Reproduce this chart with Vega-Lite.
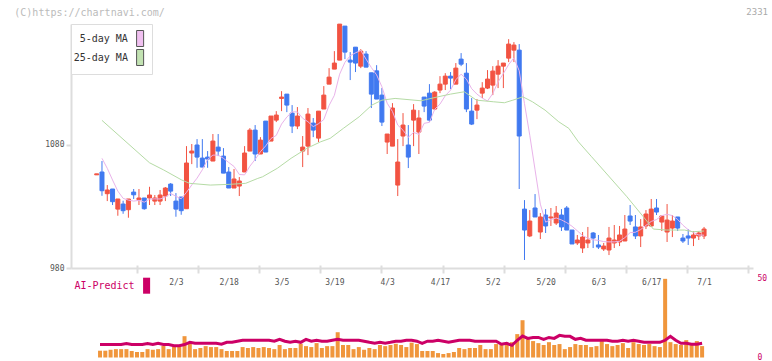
{
"$schema":"https://vega.github.io/schema/vega-lite/v6.json",
"padding":{"left":14,"top":7,"right":4,"bottom":-0.5},
"autosize":{"type":"pad"},
"background":"white",
"config":{"view":{"stroke":null},"font":"DejaVu Sans Mono"},
"bounds":"flush",
"spacing":10.5,
"title":{"text":"(C)https://chartnavi.com/","anchor":"start","frame":"group","offset":0,"dx":-56.7,"dy":10,"fontSize":10,"fontWeight":"normal","color":"#bbbbbb","font":"DejaVu Sans Mono"},
"resolve":{"scale":{"x":"independent","y":"independent","fill":"independent","color":"independent"}},
"datasets":{
"c":[
{"i":0,"d":"1/10","o":1055.6,"h":1056.4,"l":1055.6,"c":1056.4},
{"i":1,"d":"1/14","o":1057.9,"h":1066.8,"l":1038.6,"c":1042.7,"v":4.3,"ai":8.2},
{"i":2,"d":"1/15","o":1040.3,"h":1047.3,"l":1034.3,"c":1043.3,"v":4.3,"ai":8.2},
{"i":3,"d":"1/16","o":1044.1,"h":1044.1,"l":1031.1,"c":1033.8,"v":4.9,"ai":8.2},
{"i":4,"d":"1/17","o":1027.8,"h":1036.0,"l":1022.4,"c":1036.0,"v":5.3,"ai":8.2},
{"i":5,"d":"1/20","o":1031.9,"h":1034.6,"l":1024.0,"c":1026.5,"v":5.3,"ai":8.2},
{"i":6,"d":"1/21","o":1027.3,"h":1036.0,"l":1020.8,"c":1036.0,"v":5.3,"ai":8.8},
{"i":7,"d":"1/22","o":1041.6,"h":1044.1,"l":1036.0,"c":1039.4,"v":4.1,"ai":8.2},
{"i":8,"d":"1/23","o":1035.4,"h":1044.1,"l":1031.1,"c":1036.8,"v":3.5,"ai":8.2},
{"i":9,"d":"1/24","o":1036.8,"h":1036.8,"l":1027.3,"c":1028.1,"v":3.5,"ai":8.2},
{"i":10,"d":"1/27","o":1036.8,"h":1045.9,"l":1031.1,"c":1039.2,"v":5.3,"ai":8.8},
{"i":11,"d":"1/28","o":1034.3,"h":1039.2,"l":1031.1,"c":1036.8,"v":4.9,"ai":8.2},
{"i":12,"d":"1/29","o":1034.3,"h":1043.3,"l":1031.1,"c":1039.2,"v":5.3,"ai":9.0},
{"i":13,"d":"1/30","o":1038.4,"h":1045.7,"l":1034.3,"c":1044.9,"v":7.4,"ai":8.2},
{"i":14,"d":"1/31","o":1048.1,"h":1048.9,"l":1038.4,"c":1042.4,"v":5.3,"ai":8.2},
{"i":15,"d":"2/3","o":1034.3,"h":1040.8,"l":1021.6,"c":1027.8,"v":6.8,"ai":7.5},
{"i":16,"d":"2/4","o":1037.6,"h":1037.6,"l":1023.2,"c":1026.5,"v":6.8,"ai":7.5},
{"i":17,"d":"2/5","o":1028.1,"h":1078.9,"l":1028.1,"c":1065.2,"v":13.5,"ai":8.2},
{"i":18,"d":"2/6","o":1073.3,"h":1080.6,"l":1064.3,"c":1074.9,"v":8.7,"ai":9.6},
{"i":19,"d":"2/7","o":1079.8,"h":1084.6,"l":1061.3,"c":1070.0,"v":5.3,"ai":9.0},
{"i":20,"d":"2/10","o":1069.2,"h":1084.6,"l":1061.9,"c":1061.9,"v":6.0,"ai":9.0},
{"i":21,"d":"2/12","o":1070.0,"h":1074.9,"l":1061.3,"c":1068.4,"v":7.2,"ai":9.0},
{"i":22,"d":"2/13","o":1066.8,"h":1088.7,"l":1066.8,"c":1083.0,"v":6.6,"ai":9.0},
{"i":23,"d":"2/14","o":1078.1,"h":1088.7,"l":1070.8,"c":1074.9,"v":6.6,"ai":9.0},
{"i":24,"d":"2/17","o":1070.8,"h":1077.3,"l":1057.0,"c":1057.0,"v":5.3,"ai":8.4},
{"i":25,"d":"2/18","o":1057.9,"h":1061.9,"l":1044.9,"c":1044.9,"v":4.1,"ai":9.6},
{"i":26,"d":"2/19","o":1044.9,"h":1060.3,"l":1044.9,"c":1052.2,"v":4.1,"ai":9.6},
{"i":27,"d":"2/20","o":1046.5,"h":1053.8,"l":1038.4,"c":1050.6,"v":4.1,"ai":10.3},
{"i":28,"d":"2/21","o":1057.9,"h":1078.9,"l":1057.9,"c":1073.3,"v":6.6,"ai":10.9},
{"i":29,"d":"2/25","o":1074.9,"h":1093.5,"l":1074.9,"c":1091.9,"v":6.0,"ai":10.9},
{"i":30,"d":"2/26","o":1091.9,"h":1096.0,"l":1066.8,"c":1072.5,"v":6.6,"ai":10.9},
{"i":31,"d":"2/27","o":1072.5,"h":1086.2,"l":1072.5,"c":1083.8,"v":6.0,"ai":10.9},
{"i":32,"d":"2/28","o":1099.2,"h":1099.2,"l":1074.1,"c":1074.1,"v":6.6,"ai":10.9},
{"i":33,"d":"3/3","o":1083.0,"h":1103.3,"l":1083.0,"c":1103.3,"v":6.0,"ai":10.9},
{"i":34,"d":"3/4","o":1100.0,"h":1107.3,"l":1098.4,"c":1104.1,"v":5.3,"ai":10.3},
{"i":35,"d":"3/5","o":1117.6,"h":1123.5,"l":1107.3,"c":1118.7,"v":7.9,"ai":11.5},
{"i":36,"d":"3/6","o":1121.1,"h":1121.1,"l":1106.5,"c":1112.2,"v":5.3,"ai":10.3},
{"i":37,"d":"3/7","o":1105.7,"h":1112.2,"l":1089.5,"c":1095.2,"v":6.0,"ai":9.6},
{"i":38,"d":"3/10","o":1095.2,"h":1110.6,"l":1092.7,"c":1103.3,"v":6.0,"ai":10.3},
{"i":39,"d":"3/11","o":1074.9,"h":1087.1,"l":1061.9,"c":1078.1,"v":8.7,"ai":9.6},
{"i":40,"d":"3/12","o":1078.9,"h":1109.8,"l":1071.6,"c":1104.9,"v":7.2,"ai":11.5},
{"i":41,"d":"3/13","o":1097.6,"h":1101.7,"l":1086.2,"c":1091.9,"v":6.6,"ai":10.3},
{"i":42,"d":"3/14","o":1085.4,"h":1107.3,"l":1082.2,"c":1107.3,"v":9.1,"ai":10.9},
{"i":43,"d":"3/17","o":1109.0,"h":1127.6,"l":1109.0,"c":1120.3,"v":6.0,"ai":10.3},
{"i":44,"d":"3/18","o":1129.2,"h":1142.2,"l":1129.2,"c":1134.9,"v":7.2,"ai":10.3},
{"i":45,"d":"3/19","o":1141.4,"h":1156.0,"l":1141.4,"c":1146.3,"v":7.2,"ai":10.9},
{"i":46,"d":"3/21","o":1148.7,"h":1177.9,"l":1148.7,"c":1177.9,"v":16.0,"ai":11.5},
{"i":47,"d":"3/24","o":1176.3,"h":1176.3,"l":1149.5,"c":1155.2,"v":7.9,"ai":10.9},
{"i":48,"d":"3/25","o":1148.7,"h":1155.2,"l":1132.5,"c":1147.1,"v":7.9,"ai":10.9},
{"i":49,"d":"3/26","o":1159.2,"h":1159.2,"l":1139.0,"c":1146.3,"v":5.3,"ai":10.9},
{"i":50,"d":"3/27","o":1143.8,"h":1157.6,"l":1142.2,"c":1156.0,"v":6.6,"ai":10.9},
{"i":51,"d":"3/28","o":1153.6,"h":1156.0,"l":1143.0,"c":1143.0,"v":4.9,"ai":10.3},
{"i":52,"d":"3/31","o":1138.4,"h":1138.4,"l":1109.8,"c":1121.1,"v":6.0,"ai":9.6},
{"i":53,"d":"4/1","o":1140.0,"h":1144.6,"l":1117.1,"c":1117.1,"v":5.3,"ai":9.0},
{"i":54,"d":"4/2","o":1120.3,"h":1126.0,"l":1095.2,"c":1098.4,"v":7.9,"ai":9.6},
{"i":55,"d":"4/3","o":1082.2,"h":1088.7,"l":1072.5,"c":1088.7,"v":7.2,"ai":9.0},
{"i":56,"d":"4/4","o":1078.9,"h":1113.8,"l":1078.9,"c":1109.8,"v":7.9,"ai":9.6},
{"i":57,"d":"4/7","o":1047.3,"h":1084.6,"l":1038.4,"c":1066.0,"v":8.7,"ai":10.3},
{"i":58,"d":"4/8","o":1087.1,"h":1105.7,"l":1078.9,"c":1096.0,"v":7.9,"ai":10.3},
{"i":59,"d":"4/9","o":1079.8,"h":1096.0,"l":1061.1,"c":1070.0,"v":6.6,"ai":10.9},
{"i":60,"d":"4/10","o":1100.0,"h":1113.0,"l":1078.9,"c":1108.1,"v":9.4,"ai":10.9},
{"i":61,"d":"4/11","o":1090.3,"h":1108.1,"l":1072.5,"c":1101.7,"v":8.5,"ai":10.3},
{"i":62,"d":"4/14","o":1118.7,"h":1118.7,"l":1106.5,"c":1111.4,"v":4.1,"ai":9.0},
{"i":63,"d":"4/15","o":1121.9,"h":1129.2,"l":1098.4,"c":1100.0,"v":4.1,"ai":10.3},
{"i":64,"d":"4/16","o":1109.0,"h":1123.5,"l":1108.1,"c":1122.7,"v":4.1,"ai":10.3},
{"i":65,"d":"4/17","o":1124.4,"h":1135.7,"l":1121.9,"c":1129.2,"v":2.8,"ai":10.9},
{"i":66,"d":"4/18","o":1129.2,"h":1138.1,"l":1124.4,"c":1135.7,"v":2.2,"ai":10.3},
{"i":67,"d":"4/21","o":1135.7,"h":1139.0,"l":1125.2,"c":1134.1,"v":2.8,"ai":9.6},
{"i":68,"d":"4/22","o":1129.2,"h":1146.3,"l":1129.2,"c":1142.2,"v":3.5,"ai":10.3},
{"i":69,"d":"4/23","o":1149.5,"h":1154.4,"l":1143.8,"c":1145.4,"v":6.0,"ai":10.9},
{"i":70,"d":"4/24","o":1138.1,"h":1146.3,"l":1106.5,"c":1109.0,"v":5.3,"ai":10.9},
{"i":71,"d":"4/25","o":1107.3,"h":1117.9,"l":1096.0,"c":1096.8,"v":6.0,"ai":10.9},
{"i":72,"d":"4/28","o":1108.1,"h":1117.1,"l":1100.8,"c":1112.2,"v":6.0,"ai":10.3},
{"i":73,"d":"4/30","o":1121.9,"h":1130.8,"l":1117.9,"c":1126.0,"v":7.9,"ai":10.3},
{"i":74,"d":"5/1","o":1126.0,"h":1140.6,"l":1125.2,"c":1133.3,"v":5.3,"ai":10.3},
{"i":75,"d":"5/2","o":1128.4,"h":1143.8,"l":1120.3,"c":1139.8,"v":5.3,"ai":10.3},
{"i":76,"d":"5/7","o":1137.3,"h":1148.7,"l":1126.0,"c":1143.8,"v":8.5,"ai":10.3},
{"i":77,"d":"5/8","o":1143.8,"h":1146.3,"l":1126.0,"c":1146.3,"v":7.9,"ai":8.4},
{"i":78,"d":"5/9","o":1150.3,"h":1165.7,"l":1147.1,"c":1161.7,"v":7.9,"ai":9.0},
{"i":79,"d":"5/12","o":1156.8,"h":1163.3,"l":1147.1,"c":1160.9,"v":9.7,"ai":7.7},
{"i":80,"d":"5/13","o":1156.8,"h":1161.7,"l":1044.1,"c":1087.1,"v":14.8,"ai":10.9},
{"i":81,"d":"5/14","o":1027.8,"h":1035.1,"l":986.5,"c":1010.8,"v":23.6,"ai":13.6},
{"i":82,"d":"5/15","o":1006.0,"h":1027.0,"l":1005.1,"c":1018.1,"v":11.6,"ai":12.1},
{"i":83,"d":"5/16","o":1028.7,"h":1040.0,"l":1021.4,"c":1021.4,"v":10.4,"ai":12.7},
{"i":84,"d":"5/19","o":1009.2,"h":1024.6,"l":1003.5,"c":1021.4,"v":9.1,"ai":12.7},
{"i":85,"d":"5/20","o":1023.0,"h":1027.8,"l":1008.4,"c":1014.1,"v":7.9,"ai":11.5},
{"i":86,"d":"5/21","o":1020.6,"h":1028.7,"l":1014.1,"c":1021.4,"v":9.7,"ai":12.7},
{"i":87,"d":"5/22","o":1016.5,"h":1030.3,"l":1014.9,"c":1024.6,"v":7.9,"ai":12.1},
{"i":88,"d":"5/23","o":1023.0,"h":1027.8,"l":1010.0,"c":1013.3,"v":8.5,"ai":14.0},
{"i":89,"d":"5/26","o":1028.7,"h":1030.3,"l":1010.8,"c":1010.8,"v":5.3,"ai":13.4},
{"i":90,"d":"5/27","o":1010.8,"h":1010.8,"l":999.5,"c":999.5,"v":6.6,"ai":13.4},
{"i":91,"d":"5/28","o":1000.3,"h":1006.8,"l":998.7,"c":1002.7,"v":8.5,"ai":11.5},
{"i":92,"d":"5/29","o":996.2,"h":1009.2,"l":992.2,"c":1005.1,"v":7.9,"ai":12.1},
{"i":93,"d":"5/30","o":1000.3,"h":1013.3,"l":996.2,"c":1002.7,"v":7.9,"ai":10.9},
{"i":94,"d":"6/2","o":1008.4,"h":1009.2,"l":996.2,"c":1004.3,"v":6.6,"ai":10.9},
{"i":95,"d":"6/3","o":998.7,"h":1006.8,"l":995.4,"c":997.0,"v":7.2,"ai":10.9},
{"i":96,"d":"6/4","o":995.4,"h":1000.3,"l":993.8,"c":997.8,"v":10.4,"ai":10.9},
{"i":97,"d":"6/5","o":994.6,"h":1013.3,"l":990.5,"c":1004.3,"v":8.5,"ai":10.9},
{"i":98,"d":"6/6","o":1000.3,"h":1014.9,"l":996.2,"c":1002.7,"v":7.2,"ai":10.3},
{"i":99,"d":"6/9","o":1001.1,"h":1014.1,"l":997.8,"c":1006.8,"v":7.9,"ai":10.3},
{"i":100,"d":"6/10","o":1001.9,"h":1023.0,"l":1001.9,"c":1011.6,"v":9.1,"ai":10.9},
{"i":101,"d":"6/11","o":1022.2,"h":1031.1,"l":1014.9,"c":1018.1,"v":6.0,"ai":10.3},
{"i":102,"d":"6/12","o":1013.3,"h":1023.0,"l":1003.5,"c":1006.0,"v":9.7,"ai":10.9},
{"i":103,"d":"6/13","o":1006.0,"h":1019.7,"l":997.0,"c":1013.3,"v":8.5,"ai":10.3},
{"i":104,"d":"6/16","o":1014.1,"h":1027.0,"l":1011.6,"c":1023.8,"v":7.9,"ai":9.6},
{"i":105,"d":"6/17","o":1014.1,"h":1036.0,"l":1013.3,"c":1027.8,"v":8.5,"ai":9.6},
{"i":106,"d":"6/18","o":1028.7,"h":1036.0,"l":1023.0,"c":1025.4,"v":7.2,"ai":9.6},
{"i":107,"d":"6/19","o":1017.3,"h":1022.2,"l":1010.0,"c":1022.2,"v":6.6,"ai":9.6},
{"i":108,"d":"6/20","o":1009.2,"h":1031.9,"l":1001.1,"c":1018.9,"v":49.8,"ai":10.9},
{"i":109,"d":"6/23","o":1012.4,"h":1023.0,"l":1005.1,"c":1018.1,"v":9.7,"ai":13.4},
{"i":110,"d":"6/24","o":1021.4,"h":1021.4,"l":1010.0,"c":1012.4,"v":8.5,"ai":10.9},
{"i":111,"d":"6/25","o":1004.3,"h":1007.6,"l":1000.3,"c":1001.9,"v":7.9,"ai":9.0},
{"i":112,"d":"6/26","o":1006.0,"h":1011.6,"l":998.7,"c":1004.3,"v":11.0,"ai":9.0},
{"i":113,"d":"6/27","o":1004.3,"h":1010.0,"l":997.8,"c":1006.8,"v":7.9,"ai":8.4},
{"i":114,"d":"6/30","o":1006.0,"h":1010.0,"l":1002.7,"c":1008.4,"v":10.4,"ai":8.4},
{"i":115,"d":"7/1","o":1006.0,"h":1013.3,"l":1003.5,"c":1011.6,"v":7.2,"ai":9.0}
],
"ma":[
{"s":"5-day MA","i":1,"v":1069.0},{"s":"5-day MA","i":2,"v":1060.9},{"s":"5-day MA","i":3,"v":1051.4},{"s":"5-day MA","i":4,"v":1042.4},{"s":"5-day MA","i":5,"v":1036.5},
{"s":"5-day MA","i":6,"v":1035.1},{"s":"5-day MA","i":7,"v":1034.3},{"s":"5-day MA","i":8,"v":1034.9},{"s":"5-day MA","i":9,"v":1033.4},{"s":"5-day MA","i":10,"v":1035.9},
{"s":"5-day MA","i":11,"v":1036.1},{"s":"5-day MA","i":12,"v":1036.0},{"s":"5-day MA","i":13,"v":1037.6},{"s":"5-day MA","i":14,"v":1040.5},{"s":"5-day MA","i":15,"v":1038.2},
{"s":"5-day MA","i":16,"v":1036.2},{"s":"5-day MA","i":17,"v":1041.4},{"s":"5-day MA","i":18,"v":1047.4},{"s":"5-day MA","i":19,"v":1052.9},{"s":"5-day MA","i":20,"v":1059.7},
{"s":"5-day MA","i":21,"v":1068.1},{"s":"5-day MA","i":22,"v":1071.6},{"s":"5-day MA","i":23,"v":1071.6},{"s":"5-day MA","i":24,"v":1069.0},{"s":"5-day MA","i":25,"v":1065.6},
{"s":"5-day MA","i":26,"v":1062.4},{"s":"5-day MA","i":27,"v":1055.9},{"s":"5-day MA","i":28,"v":1055.6},{"s":"5-day MA","i":29,"v":1062.6},{"s":"5-day MA","i":30,"v":1068.1},
{"s":"5-day MA","i":31,"v":1074.4},{"s":"5-day MA","i":32,"v":1079.1},{"s":"5-day MA","i":33,"v":1085.1},{"s":"5-day MA","i":34,"v":1087.6},{"s":"5-day MA","i":35,"v":1096.8},
{"s":"5-day MA","i":36,"v":1102.5},{"s":"5-day MA","i":37,"v":1106.7},{"s":"5-day MA","i":38,"v":1106.7},{"s":"5-day MA","i":39,"v":1101.5},{"s":"5-day MA","i":40,"v":1098.7},
{"s":"5-day MA","i":41,"v":1094.7},{"s":"5-day MA","i":42,"v":1097.1},{"s":"5-day MA","i":43,"v":1100.5},{"s":"5-day MA","i":44,"v":1111.9},{"s":"5-day MA","i":45,"v":1120.1},
{"s":"5-day MA","i":46,"v":1137.3},{"s":"5-day MA","i":47,"v":1146.9},{"s":"5-day MA","i":48,"v":1152.3},{"s":"5-day MA","i":49,"v":1154.6},{"s":"5-day MA","i":50,"v":1156.5},
{"s":"5-day MA","i":51,"v":1149.5},{"s":"5-day MA","i":52,"v":1142.7},{"s":"5-day MA","i":53,"v":1136.7},{"s":"5-day MA","i":54,"v":1127.1},{"s":"5-day MA","i":55,"v":1113.7},
{"s":"5-day MA","i":56,"v":1107.0},{"s":"5-day MA","i":57,"v":1096.0},{"s":"5-day MA","i":58,"v":1091.8},{"s":"5-day MA","i":59,"v":1086.1},{"s":"5-day MA","i":60,"v":1090.0},
{"s":"5-day MA","i":61,"v":1088.4},{"s":"5-day MA","i":62,"v":1097.4},{"s":"5-day MA","i":63,"v":1098.2},{"s":"5-day MA","i":64,"v":1108.8},{"s":"5-day MA","i":65,"v":1113.0},
{"s":"5-day MA","i":66,"v":1119.8},{"s":"5-day MA","i":67,"v":1124.3},{"s":"5-day MA","i":68,"v":1132.8},{"s":"5-day MA","i":69,"v":1137.3},{"s":"5-day MA","i":70,"v":1133.3},
{"s":"5-day MA","i":71,"v":1125.5},{"s":"5-day MA","i":72,"v":1121.1},{"s":"5-day MA","i":73,"v":1117.9},{"s":"5-day MA","i":74,"v":1115.5},{"s":"5-day MA","i":75,"v":1121.6},
{"s":"5-day MA","i":76,"v":1131.0},{"s":"5-day MA","i":77,"v":1137.8},{"s":"5-day MA","i":78,"v":1145.0},{"s":"5-day MA","i":79,"v":1150.5},{"s":"5-day MA","i":80,"v":1140.0},
{"s":"5-day MA","i":81,"v":1113.4},{"s":"5-day MA","i":82,"v":1087.7},{"s":"5-day MA","i":83,"v":1059.7},{"s":"5-day MA","i":84,"v":1031.8},{"s":"5-day MA","i":85,"v":1017.2},
{"s":"5-day MA","i":86,"v":1019.3},{"s":"5-day MA","i":87,"v":1020.6},{"s":"5-day MA","i":88,"v":1019.0},{"s":"5-day MA","i":89,"v":1016.8},{"s":"5-day MA","i":90,"v":1013.9},
{"s":"5-day MA","i":91,"v":1010.2},{"s":"5-day MA","i":92,"v":1006.3},{"s":"5-day MA","i":93,"v":1004.2},{"s":"5-day MA","i":94,"v":1002.9},{"s":"5-day MA","i":95,"v":1002.4},
{"s":"5-day MA","i":96,"v":1001.4},{"s":"5-day MA","i":97,"v":1001.2},{"s":"5-day MA","i":98,"v":1001.2},{"s":"5-day MA","i":99,"v":1001.7},{"s":"5-day MA","i":100,"v":1004.6},
{"s":"5-day MA","i":101,"v":1008.7},{"s":"5-day MA","i":102,"v":1009.0},{"s":"5-day MA","i":103,"v":1011.2},{"s":"5-day MA","i":104,"v":1014.6},{"s":"5-day MA","i":105,"v":1017.8},
{"s":"5-day MA","i":106,"v":1019.3},{"s":"5-day MA","i":107,"v":1022.5},{"s":"5-day MA","i":108,"v":1023.6},{"s":"5-day MA","i":109,"v":1022.5},{"s":"5-day MA","i":110,"v":1019.4},
{"s":"5-day MA","i":111,"v":1014.7},{"s":"5-day MA","i":112,"v":1011.1},{"s":"5-day MA","i":113,"v":1008.7},{"s":"5-day MA","i":114,"v":1006.8},{"s":"5-day MA","i":115,"v":1006.6},
{"s":"25-day MA","i":1,"v":1099.8},{"s":"25-day MA","i":10,"v":1065.4},{"s":"25-day MA","i":12.7,"v":1059.5},{"s":"25-day MA","i":16.1,"v":1051.4},{"s":"25-day MA","i":17.6,"v":1048.7},
{"s":"25-day MA","i":21.5,"v":1047.3},{"s":"25-day MA","i":25.2,"v":1047.9},{"s":"25-day MA","i":28.2,"v":1048.7},{"s":"25-day MA","i":30.5,"v":1052.7},{"s":"25-day MA","i":31.4,"v":1054.0},
{"s":"25-day MA","i":34.2,"v":1060.9},{"s":"25-day MA","i":36.8,"v":1069.0},{"s":"25-day MA","i":39.8,"v":1077.1},{"s":"25-day MA","i":42.4,"v":1082.4},{"s":"25-day MA","i":44.2,"v":1085.2},
{"s":"25-day MA","i":46.7,"v":1093.3},{"s":"25-day MA","i":49.7,"v":1102.7},{"s":"25-day MA","i":52.1,"v":1112.2},{"s":"25-day MA","i":54.0,"v":1116.2},{"s":"25-day MA","i":56.5,"v":1117.6},
{"s":"25-day MA","i":61.4,"v":1115.7},{"s":"25-day MA","i":64.6,"v":1118.9},{"s":"25-day MA","i":67.0,"v":1121.1},{"s":"25-day MA","i":69.6,"v":1123.0},{"s":"25-day MA","i":71.9,"v":1116.2},
{"s":"25-day MA","i":75.1,"v":1114.9},{"s":"25-day MA","i":77.2,"v":1114.1},{"s":"25-day MA","i":78.8,"v":1116.2},{"s":"25-day MA","i":80.7,"v":1118.9},{"s":"25-day MA","i":82.5,"v":1114.9},
{"s":"25-day MA","i":84.9,"v":1108.1},{"s":"25-day MA","i":87.5,"v":1098.6},{"s":"25-day MA","i":89.4,"v":1093.3},{"s":"25-day MA","i":91.2,"v":1082.4},{"s":"25-day MA","i":93.7,"v":1070.3},
{"s":"25-day MA","i":97.6,"v":1051.4},{"s":"25-day MA","i":100.4,"v":1037.8},{"s":"25-day MA","i":103.5,"v":1021.6},{"s":"25-day MA","i":105.4,"v":1011.6},{"s":"25-day MA","i":107.9,"v":1010.8},
{"s":"25-day MA","i":111.3,"v":1010.8},{"s":"25-day MA","i":112.9,"v":1009.4},{"s":"25-day MA","i":115,"v":1010.0}
]
},
"vconcat":[
{
"width":682,"height":244,
"title":{"text":"2331","anchor":"end","frame":"group","offset":7,"dx":15,"fontSize":9,"fontWeight":"normal","color":"#aaaaaa","font":"DejaVu Sans Mono"},
"layer":[
{"data":{"name":"c"},
 "mark":{"type":"rule","strokeWidth":1},
 "encoding":{
  "x":{"field":"i","type":"quantitative","scale":{"domain":[-3.92,123.32],"nice":false,"zero":false},
       "axis":{"orient":"bottom","values":[15,25,35,45,55,65,75,85,95,105,115],
               "labelExpr":"{'15':'2/3','25':'2/18','35':'3/5','45':'3/19','55':'4/3','65':'4/17','75':'5/2','85':'5/20','95':'6/3','105':'6/17','115':'7/1'}[datum.value]",
               "ticks":false,"tickSize":0,"domainColor":"#dddddd","domainWidth":2,"grid":false,"title":null,
               "labelFont":"DejaVu Sans Mono","labelFontSize":8,"labelColor":"#555555","labelPadding":10}},
  "y":{"field":"l","type":"quantitative","scale":{"domain":[980,1178],"nice":false,"zero":false},
       "axis":{"values":[980,1080],"format":"d","domainColor":"#dddddd","domainWidth":2,"tickColor":"#dddddd","tickWidth":2,"tickSize":5,"grid":false,"title":null,
               "labelFont":"DejaVu Sans Mono","labelFontSize":8,"labelColor":"#555555","labelPadding":2}},
  "y2":{"field":"h"},
  "color":{"condition":{"test":"datum.c >= datum.o","value":"#f25342"},"value":"#4079f0"}
 }},
{"data":{"name":"c"},
 "mark":{"type":"bar","size":4,"strokeWidth":1},
 "encoding":{
  "x":{"field":"i","type":"quantitative"},
  "y":{"field":"o","type":"quantitative"},
  "y2":{"field":"c"},
  "fill":{"condition":{"test":"datum.c >= datum.o","value":"#f25342"},"value":"#4079f0"},
  "stroke":{"condition":{"test":"datum.c >= datum.o","value":"#f25342"},"value":"#4079f0"}
 }},
{"data":{"name":"ma"},
 "mark":{"type":"line","strokeWidth":1},
 "encoding":{
  "x":{"field":"i","type":"quantitative"},
  "y":{"field":"v","type":"quantitative"},
  "detail":{"field":"s","type":"nominal"},
  "color":{"condition":{"test":"datum.s == '5-day MA'","value":"#e9b3ea"},"value":"#b5dba5"}
 }},
{"data":{"name":"ma"},
 "mark":{"type":"square","opacity":0},
 "encoding":{
  "x":{"field":"i","type":"quantitative"},
  "y":{"field":"v","type":"quantitative"},
  "fill":{"field":"s","type":"nominal","scale":{"domain":["5-day MA","25-day MA"],"range":["#f0c0f0","#c2e2b2"]},
          "legend":{"orient":"none","legendX":0,"legendY":0,"title":null,"padding":6,"strokeColor":"#dddddd","fillColor":"#ffffff",
                    "symbolType":"M-0.44,-1H0.44V1H-0.44Z","symbolSize":256,"symbolOpacity":1,"symbolOffset":54.6,
                    "labelAlign":"right","labelOffset":-20.7,"labelFont":"DejaVu Sans Mono","labelFontSize":10,"labelColor":"#333333",
                    "rowPadding":-4.5,
                    "encode":{"symbols":{"update":{"stroke":{"value":"#555555"},"strokeWidth":{"value":1},"opacity":{"value":1}}},
                              "labels":{"update":{"align":{"value":"right"}}}}}}
 }}
]
},
{
"width":682,"height":79,
"layer":[
{"data":{"name":"c"},
 "mark":{"type":"bar","size":4,"color":"#f0963c"},
 "encoding":{
  "x":{"field":"i","type":"quantitative","scale":{"domain":[-3.55,123.69],"nice":false,"zero":false},
       "axis":{"orient":"top","values":[8.017,19.585,31.152,42.719,54.287,65.854,77.421,88.988,100.556,112.123,123.69],
               "labels":false,"domain":false,"tickColor":"#dddddd","tickWidth":2,"tickSize":8,"offset":5.5,"grid":false,"title":null}},
  "y":{"field":"v","type":"quantitative","scale":{"domain":[0,50],"nice":false},
       "axis":{"orient":"right","values":[0,10,20,30,40,50],"domain":false,"ticks":false,"grid":false,"title":null,
               "labelFont":"DejaVu Sans Mono","labelFontSize":8,"labelColor":"#cc0066","labelPadding":4}}
 }},
{"data":{"name":"c"},
 "mark":{"type":"line","strokeWidth":3,"color":"#cc0066"},
 "encoding":{
  "x":{"field":"i","type":"quantitative"},
  "y":{"field":"ai","type":"quantitative"}
 }},
{"data":{"name":"c"},
 "mark":{"type":"square","opacity":0},
 "encoding":{
  "x":{"field":"i","type":"quantitative"},
  "y":{"field":"ai","type":"quantitative"},
  "fill":{"datum":"AI-Predict","scale":{"domain":["AI-Predict"],"range":["#cc0066"]},
          "legend":{"orient":"none","legendX":0,"legendY":-6.8,"title":null,"padding":5,
                    "symbolType":"M-0.44,-1H0.44V1H-0.44Z","symbolSize":256,"symbolOpacity":1,"symbolOffset":61.6,
                    "labelAlign":"right","labelOffset":-21,"labelFont":"DejaVu Sans Mono","labelFontSize":10,"labelColor":"#cc0066",
                    "encode":{"labels":{"update":{"align":{"value":"right"}}}}}}
 }}
]
}
]
}
